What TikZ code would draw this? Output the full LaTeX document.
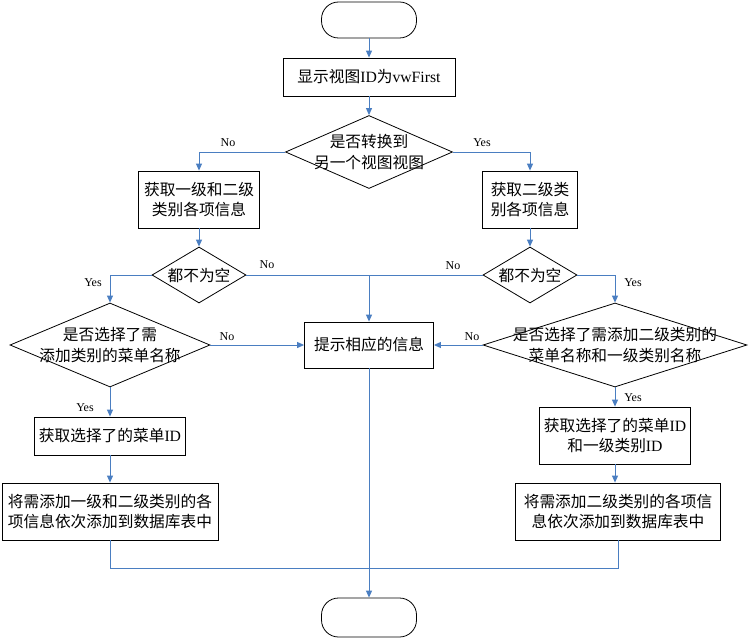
\documentclass[tikz,border=0pt]{standalone}
\usepackage{fontspec}
\setmainfont{Liberation Serif}
\newfontfamily\cjk{Noto Sans CJK SC}
\usetikzlibrary{shapes.geometric,arrows.meta}
\definecolor{flowblue}{RGB}{74,126,193}
\newcommand\lat[1]{{\rmfamily #1}}
\tikzset{
  box/.style={draw=black,line width=0.8pt,rectangle,inner sep=0pt,align=center,
    font=\cjk\fontsize{15.7}{20.5}\selectfont},
  term/.style={draw=black,line width=0.8pt,rectangle,rounded corners=17pt,inner sep=0pt},
  dia/.style={draw=black,line width=0.8pt,diamond,inner sep=0pt},
  dtext/.style={align=center,inner sep=0pt,font=\cjk\fontsize{15.7}{20.5}\selectfont},
  lbl/.style={inner sep=0pt,font=\rmfamily\fontsize{12}{14}\selectfont},
  conn/.style={draw=flowblue,line width=0.9pt},
  arr/.style={conn,-{Triangle[length=7pt,width=6pt]}}
}
\begin{document}
\begin{tikzpicture}[x=1pt,y=-1pt]
\useasboundingbox (0,0) rectangle (749,639);
% terminals
\node[term,minimum width=95,minimum height=36] (start) at (369,20) {};
\node[term,minimum width=95,minimum height=39] (stop) at (369,617.5) {};
% boxes
\node[box,minimum width=172,minimum height=38] (b1) at (369,77) {显示视图\lat{ID}为\lat{vwFirst}};
\node[box,minimum width=121,minimum height=57] (b2) at (199,199.5) {获取一级和二级\\类别各项信息};
\node[box,minimum width=95,minimum height=57] (b3) at (530,199.5) {获取二级类\\别各项信息};
\node[box,minimum width=129,minimum height=46] (msg) at (369,345) {提示相应的信息};
\node[box,minimum width=151,minimum height=38] (b4) at (110,436) {获取选择了的菜单\lat{ID}};
\node[box,minimum width=151,minimum height=57] (b5) at (615,435.5) {获取选择了的菜单\lat{ID}\\和一级类别\lat{ID}};
\node[box,minimum width=216,minimum height=57] (b6) at (110,511.5) {将需添加一级和二级类别的各\\项信息依次添加到数据库表中};
\node[box,minimum width=205,minimum height=57] (b7) at (618,511.5) {将需添加二级类别的各项信\\息依次添加到数据库表中};
% diamonds
\node[dia,minimum width=167,minimum height=73] (d1) at (369,152) {};
\node[dtext] (d1t) at (369,152) {是否转换到\\另一个视图视图};
\node[dia,minimum width=94,minimum height=56] (d2) at (199,275) {};
\node[dtext] (d2t) at (199,275) {都不为空};
\node[dia,minimum width=94,minimum height=56] (d3) at (530,275) {};
\node[dtext] (d3t) at (530,275) {都不为空};
\node[dia,minimum width=200,minimum height=84] (d4) at (110,345) {};
\node[dtext] (d4t) at (110,345) {是否选择了需\\添加类别的菜单名称};
\node[dia,minimum width=264,minimum height=84] (d5) at (615,345) {};
\node[dtext] (d5t) at (615,345) {是否选择了需添加二级类别的\\菜单名称和一级类别名称};
% merge coordinates
\coordinate (mergeL) at (110,568);
\coordinate (mergeR) at (618,568);
\coordinate (mid) at (369,275);
% connectors
\draw[arr] (start.south) -- (b1.north);
\draw[arr] (b1.south) -- (d1.north);
\draw[arr] (d1.west) -| (b2.north);
\draw[arr] (d1.east) -| (b3.north);
\draw[arr] (b2.south) -- (d2.north);
\draw[arr] (b3.south) -- (d3.north);
\draw[arr] (d2.west) -| (d4.north);
\draw[arr] (d3.east) -| (d5.north);
\draw[conn] (d2.east) -- (mid);
\draw[conn] (d3.west) -- (mid);
\draw[arr] (mid) -- (msg.north);
\draw[arr] (d4.east) -- (msg.west);
\draw[arr] (d5.west) -- (msg.east);
\draw[arr] (d4.south) -- (b4.north);
\draw[arr] (d5.south) -- (b5.north);
\draw[arr] (b4.south) -- (b6.north);
\draw[arr] (b5.south) -- (b5.south |- b7.north);
\draw[conn] (b6.south) -- (mergeL) -- (mergeR) -- (b7.south);
\draw[arr] (msg.south) -- (stop.north);
% labels
\node[lbl] (l1) at (228,143) {No};
\node[lbl] (l2) at (482,143) {Yes};
\node[lbl] (l3) at (267,265) {No};
\node[lbl] (l4) at (453,266) {No};
\node[lbl] (l5) at (93,283) {Yes};
\node[lbl] (l6) at (633,283) {Yes};
\node[lbl] (l7) at (227,337) {No};
\node[lbl] (l8) at (472,337) {No};
\node[lbl] (l9) at (85,408) {Yes};
\node[lbl] (l10) at (633,398) {Yes};
\end{tikzpicture}
\end{document}
